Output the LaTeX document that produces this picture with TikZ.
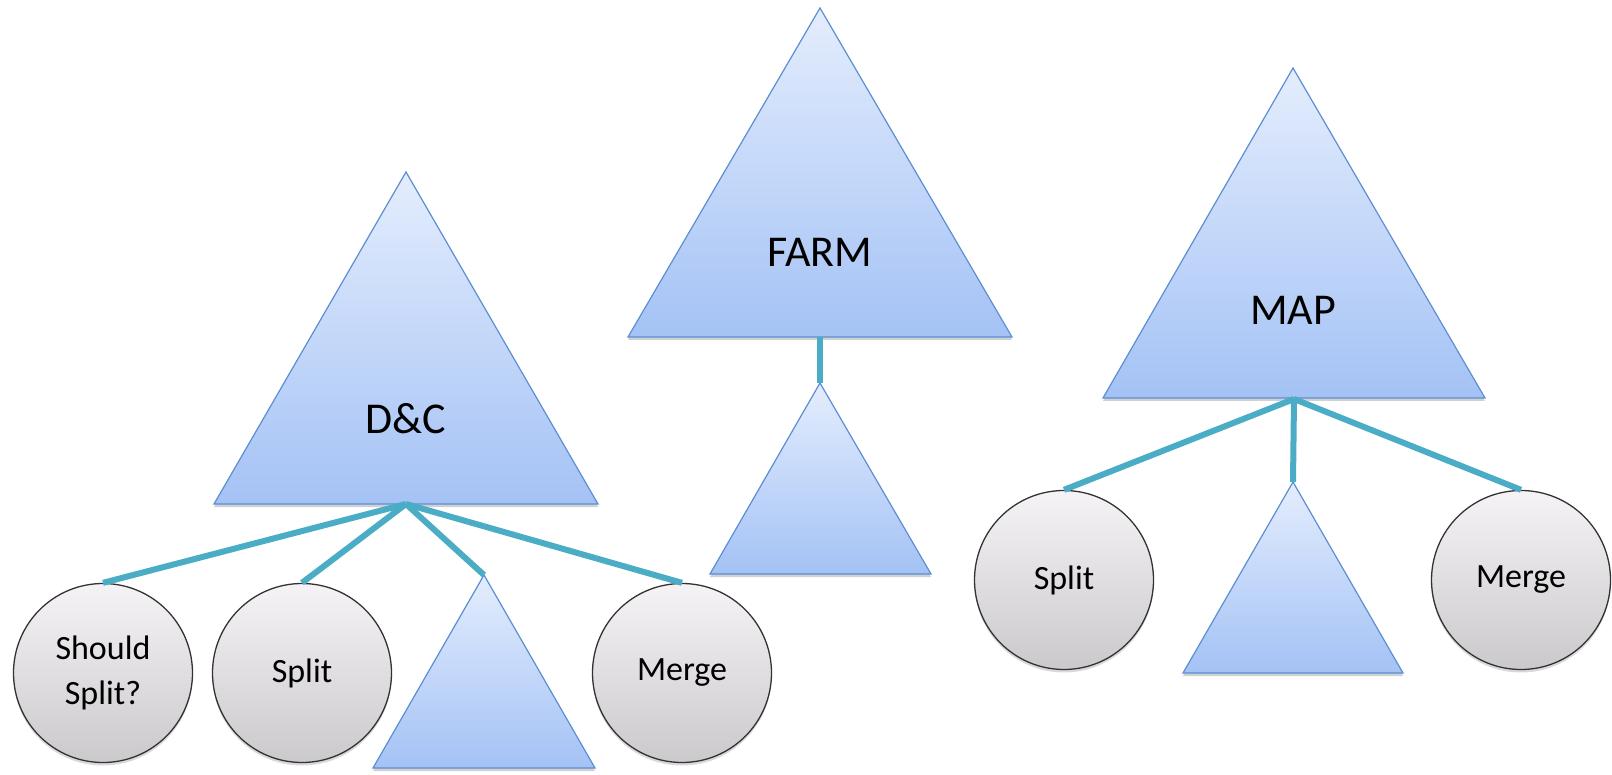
\documentclass[tikz,border=0pt]{standalone}
\usepackage{fontspec}
\setmainfont{Carlito}
\usetikzlibrary{shadows}
\definecolor{triTop}{RGB}{228,237,253}
\definecolor{triBot}{RGB}{164,194,245}
\definecolor{triLine}{RGB}{92,142,210}
\definecolor{cirTop}{RGB}{245,243,245}
\definecolor{cirBot}{RGB}{203,201,204}
\definecolor{linkCol}{RGB}{75,172,198}
\tikzset{
  tri/.style={draw=triLine, line width=1.2pt, line join=miter,
    top color=triTop, bottom color=triBot,
    drop shadow={shadow xshift=0pt, shadow yshift=-3pt, fill=black, opacity=0.18}},
  bubble/.style={circle, draw=black!80, line width=1.3pt, inner sep=0pt,
    minimum size=179pt, top color=cirTop, bottom color=cirBot,
    align=center, font=\fontsize{34}{45}\selectfont,
    drop shadow={shadow xshift=0pt, shadow yshift=-3pt, fill=black, opacity=0.15}},
  biglabel/.style={font=\fontsize{44}{52}\selectfont, inner sep=0pt},
  link/.style={draw=linkCol, line width=6pt}
}
\begin{document}
\begin{tikzpicture}[x=1pt, y=-1pt]
\useasboundingbox (0,0) rectangle (1612,775);

% ---- corner points of the triangles ----
% D&C
\coordinate (dcA) at (406,172); \coordinate (dcL) at (214,504); \coordinate (dcR) at (598,504);
\coordinate (dcHub) at (406,504);
\coordinate (dcsA) at (484,575); \coordinate (dcsL) at (373,768); \coordinate (dcsR) at (595,768);
% FARM
\coordinate (fmA) at (820,8); \coordinate (fmL) at (628,337); \coordinate (fmR) at (1012,337);
\coordinate (fmHub) at (820,337);
\coordinate (fmsA) at (820,383); \coordinate (fmsL) at (710,574); \coordinate (fmsR) at (931,574);
% MAP
\coordinate (mpA) at (1293,68); \coordinate (mpL) at (1103,398); \coordinate (mpR) at (1485,398);
\coordinate (mpHub) at (1294,399);
\coordinate (mpsA) at (1293,482); \coordinate (mpsL) at (1183,673); \coordinate (mpsR) at (1403,673);

% ---- triangles ----
\path[tri] (dcA) -- (dcL) -- (dcR) -- cycle;
\path[tri] (dcsA) -- (dcsL) -- (dcsR) -- cycle;
\path[tri] (fmA) -- (fmL) -- (fmR) -- cycle;
\path[tri] (fmsA) -- (fmsL) -- (fmsR) -- cycle;
\path[tri] (mpA) -- (mpL) -- (mpR) -- cycle;
\path[tri] (mpsA) -- (mpsL) -- (mpsR) -- cycle;

% ---- labels ----
\node[biglabel] (dc) at (406,419) {D\&C};
\node[biglabel] (farm) at (820,252) {FARM};
\node[biglabel] (map) at (1293,310) {MAP};

% ---- circles ----
\node[bubble] (should) at (103,673) {Should\\Split?};
\node[bubble] (dcsplit) at (302,673) {Split};
\node[bubble] (dcmerge) at (682,673) {Merge};
\node[bubble] (mpsplit) at (1064,580) {Split};
\node[bubble] (mpmerge) at (1521,580) {Merge};

% ---- connectors ----
\draw[link] (dcHub) -- (should.north);
\draw[link] (dcHub) -- (dcsplit.north);
\draw[link] (dcHub) -- (dcsA);
\draw[link] (dcHub) -- (dcmerge.north);
\draw[link] (fmHub) -- (fmsA);
\draw[link] (mpHub) -- (mpsplit.north);
\draw[link] (mpHub) -- (mpsA);
\draw[link] (mpHub) -- (mpmerge.north);
\end{tikzpicture}
\end{document}
